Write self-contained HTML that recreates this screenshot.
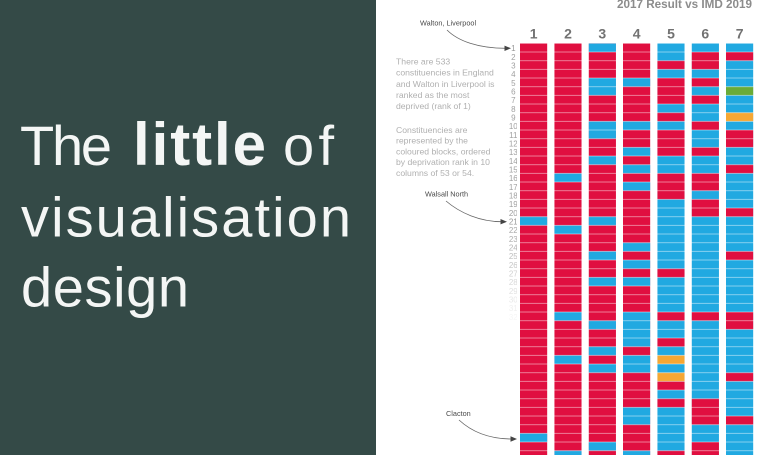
<!DOCTYPE html>
<html><head><meta charset="utf-8"><style>
html,body{margin:0;padding:0;background:#fff;}
svg{display:block;}
</style></head><body>
<svg width="758" height="455" viewBox="0 0 758 455" xmlns="http://www.w3.org/2000/svg" font-family="Liberation Sans, Arial, sans-serif">
<defs>
<pattern id="sep" patternUnits="userSpaceOnUse" x="0" y="42.9" width="758" height="8.6667">
<rect x="0" y="0" width="758" height="0.9" fill="#ffffff" fill-opacity="0.5"/>
</pattern>
</defs>
<rect x="0" y="0" width="758" height="455" fill="#ffffff"/>
<rect x="0" y="0" width="376" height="455" fill="#344a47"/>
<g fill="#f4f6f5" font-size="56">
<text x="20" y="165" textLength="92">The</text>
<text x="133" y="165" font-size="60" font-weight="bold" textLength="133">little</text>
<text x="283" y="165" textLength="51">of</text>
<text x="21" y="236.7" textLength="330">visualisation</text>
<text x="21" y="306.7" textLength="168">design</text>
</g>

<text x="617" y="8" font-size="11.7" font-weight="bold" fill="#8c8c8c" textLength="135">2017 Result vs IMD 2019</text>
<g font-size="14" font-weight="bold" fill="#727272" text-anchor="middle">
<text x="533.7" y="38.3">1</text><text x="568" y="38.3">2</text><text x="602.3" y="38.3">3</text><text x="636.7" y="38.3">4</text><text x="671" y="38.3">5</text><text x="705.3" y="38.3">6</text><text x="739.7" y="38.3">7</text>
</g>

<g font-size="8.65" fill="#b0b0b0">
<text x="396" y="64.5">There are 533</text>
<text x="396" y="75.6">constituencies in England</text>
<text x="396" y="86.8">and Walton in Liverpool is</text>
<text x="396" y="98">ranked as the most</text>
<text x="396" y="109.2">deprived (rank of 1)</text>
<text x="396" y="132.8">Constituencies are</text>
<text x="396" y="143.6">represented by the</text>
<text x="396" y="154.4">coloured blocks, ordered</text>
<text x="396" y="165.2">by deprivation rank in 10</text>
<text x="396" y="176">columns of 53 or 54.</text>
</g>

<g font-size="7.3" fill="#4a4a4a">
<text x="420" y="25.6">Walton, Liverpool</text>
<text x="425" y="196.5">Walsall North</text>
<text x="446" y="415.8">Clacton</text>
</g>
<g fill="none" stroke="#666" stroke-width="0.8">
<path d="M447,30 C458,41 478,48.3 506,48.3"/>
<path d="M446,201 C460,213 480,221.7 502,221.7"/>
<path d="M459,420 C472,432 490,439 512,439"/>
</g>
<g fill="#444">
<polygon points="511,48.3 504.5,45.6 504.5,51"/>
<polygon points="507,221.7 500.5,219 500.5,224.4"/>
<polygon points="517,439 510.5,436.3 510.5,441.7"/>
</g>

<g font-size="8" text-anchor="middle">
<text x="513.3" y="51.1" fill="#999">1</text>
<text x="513.3" y="59.8" fill="#a0a0a0">2</text>
<text x="513.3" y="68.5" fill="#a0a0a0">3</text>
<text x="513.3" y="77.1" fill="#a0a0a0">4</text>
<text x="513.3" y="85.8" fill="#a0a0a0">5</text>
<text x="513.3" y="94.5" fill="#a0a0a0">6</text>
<text x="513.3" y="103.1" fill="#a0a0a0">7</text>
<text x="513.3" y="111.8" fill="#a0a0a0">8</text>
<text x="513.3" y="120.5" fill="#a0a0a0">9</text>
<text x="513.3" y="129.1" fill="#a0a0a0">10</text>
<text x="513.3" y="137.8" fill="#a0a0a0">11</text>
<text x="513.3" y="146.5" fill="#a0a0a0">12</text>
<text x="513.3" y="155.1" fill="#a0a0a0">13</text>
<text x="513.3" y="163.8" fill="#a0a0a0">14</text>
<text x="513.3" y="172.5" fill="#a0a0a0">15</text>
<text x="513.3" y="181.1" fill="#a0a0a0">16</text>
<text x="513.3" y="189.8" fill="#a0a0a0">17</text>
<text x="513.3" y="198.5" fill="#a0a0a0">18</text>
<text x="513.3" y="207.1" fill="#a0a0a0">19</text>
<text x="513.3" y="215.8" fill="#a0a0a0">20</text>
<text x="513.3" y="224.5" fill="#999">21</text>
<text x="513.3" y="233.1" fill="#aaa">22</text>
<text x="513.3" y="241.8" fill="#aeaeae">23</text>
<text x="513.3" y="250.5" fill="#b4b4b4">24</text>
<text x="513.3" y="259.1" fill="#bdbdbd">25</text>
<text x="513.3" y="267.8" fill="#c6c6c6">26</text>
<text x="513.3" y="276.5" fill="#d0d0d0">27</text>
<text x="513.3" y="285.1" fill="#d9d9d9">28</text>
<text x="513.3" y="293.8" fill="#e2e2e2">29</text>
<text x="513.3" y="302.5" fill="#e9e9e9">30</text>
<text x="513.3" y="311.1" fill="#f0f0f0">31</text>
<text x="513.3" y="319.8" fill="#f6f6f6">32</text>
</g>

<!-- Column 1 -->
<rect x="520" y="43.33" width="27.3" height="420" fill="#e00f40"/>
<g fill="#21a9e1">
<rect x="520" y="216.67" width="27.3" height="8.67"/>
<rect x="520" y="433.33" width="27.3" height="8.67"/>
</g>
<!-- Column 2 -->
<rect x="554.33" y="43.33" width="27.3" height="420" fill="#e00f40"/>
<g fill="#21a9e1">
<rect x="554.33" y="173.33" width="27.3" height="8.67"/>
<rect x="554.33" y="225.33" width="27.3" height="8.67"/>
<rect x="554.33" y="312" width="27.3" height="8.67"/>
<rect x="554.33" y="355.33" width="27.3" height="8.67"/>
<rect x="554.33" y="450.67" width="27.3" height="8.67"/>
</g>
<!-- Column 3 -->
<rect x="588.67" y="43.33" width="27.3" height="420" fill="#e00f40"/>
<g fill="#21a9e1">
<rect x="588.67" y="43.33" width="27.3" height="8.67"/>
<rect x="588.67" y="78" width="27.3" height="17.33"/>
<rect x="588.67" y="121.33" width="27.3" height="17.33"/>
<rect x="588.67" y="156" width="27.3" height="8.67"/>
<rect x="588.67" y="216.67" width="27.3" height="8.67"/>
<rect x="588.67" y="251.33" width="27.3" height="8.67"/>
<rect x="588.67" y="277.33" width="27.3" height="8.67"/>
<rect x="588.67" y="320.67" width="27.3" height="8.67"/>
<rect x="588.67" y="346.67" width="27.3" height="8.67"/>
<rect x="588.67" y="364" width="27.3" height="8.67"/>
<rect x="588.67" y="442" width="27.3" height="8.67"/>
</g>
<!-- Column 4 -->
<rect x="623" y="43.33" width="27.3" height="420" fill="#e00f40"/>
<g fill="#21a9e1">
<rect x="623" y="78" width="27.3" height="8.67"/>
<rect x="623" y="121.33" width="27.3" height="8.67"/>
<rect x="623" y="147.33" width="27.3" height="8.67"/>
<rect x="623" y="164.67" width="27.3" height="8.67"/>
<rect x="623" y="182" width="27.3" height="8.67"/>
<rect x="623" y="242.67" width="27.3" height="8.67"/>
<rect x="623" y="260" width="27.3" height="8.67"/>
<rect x="623" y="277.33" width="27.3" height="8.67"/>
<rect x="623" y="312" width="27.3" height="34.67"/>
<rect x="623" y="355.33" width="27.3" height="17.33"/>
<rect x="623" y="407.33" width="27.3" height="17.33"/>
<rect x="623" y="450.67" width="27.3" height="8.67"/>
</g>
<!-- Column 5 -->
<rect x="657.33" y="43.33" width="27.3" height="420" fill="#21a9e1"/>
<g fill="#e00f40">
<rect x="657.33" y="60.67" width="27.3" height="8.67"/>
<rect x="657.33" y="78" width="27.3" height="26"/>
<rect x="657.33" y="112.67" width="27.3" height="8.67"/>
<rect x="657.33" y="130" width="27.3" height="26"/>
<rect x="657.33" y="173.33" width="27.3" height="26"/>
<rect x="657.33" y="268.67" width="27.3" height="8.67"/>
<rect x="657.33" y="312" width="27.3" height="8.67"/>
<rect x="657.33" y="338" width="27.3" height="8.67"/>
<rect x="657.33" y="381.33" width="27.3" height="8.67"/>
<rect x="657.33" y="398.67" width="27.3" height="8.67"/>
<rect x="657.33" y="450.67" width="27.3" height="8.67"/>
</g>
<g fill="#f6a733">
<rect x="657.33" y="355.33" width="27.3" height="8.67"/>
<rect x="657.33" y="372.67" width="27.3" height="8.67"/>
</g>
<!-- Column 6 -->
<rect x="691.67" y="43.33" width="27.3" height="420" fill="#21a9e1"/>
<g fill="#e00f40">
<rect x="691.67" y="52" width="27.3" height="17.33"/>
<rect x="691.67" y="78" width="27.3" height="8.67"/>
<rect x="691.67" y="95.33" width="27.3" height="8.67"/>
<rect x="691.67" y="121.33" width="27.3" height="8.67"/>
<rect x="691.67" y="147.33" width="27.3" height="8.67"/>
<rect x="691.67" y="173.33" width="27.3" height="17.33"/>
<rect x="691.67" y="199.33" width="27.3" height="17.33"/>
<rect x="691.67" y="312" width="27.3" height="8.67"/>
<rect x="691.67" y="398.67" width="27.3" height="26"/>
<rect x="691.67" y="442" width="27.3" height="17.33"/>
</g>
<!-- Column 7 -->
<rect x="726" y="43.33" width="27.3" height="420" fill="#21a9e1"/>
<g fill="#e00f40">
<rect x="726" y="52" width="27.3" height="8.67"/>
<rect x="726" y="130" width="27.3" height="17.33"/>
<rect x="726" y="164.67" width="27.3" height="8.67"/>
<rect x="726" y="208" width="27.3" height="8.67"/>
<rect x="726" y="251.33" width="27.3" height="8.67"/>
<rect x="726" y="312" width="27.3" height="17.33"/>
<rect x="726" y="372.67" width="27.3" height="8.67"/>
<rect x="726" y="416" width="27.3" height="8.67"/>
</g>
<rect x="726" y="86.67" width="27.3" height="8.67" fill="#6aab37"/>
<rect x="726" y="112.67" width="27.3" height="8.67" fill="#f6a733"/>

<!-- row separators -->
<rect x="518" y="43.33" width="240" height="420" fill="url(#sep)"/>
<!-- gaps between columns (restore white) -->
<g fill="#ffffff">
<rect x="547.3" y="40" width="7.03" height="420"/>
<rect x="581.63" y="40" width="7.04" height="420"/>
<rect x="615.97" y="40" width="7.03" height="420"/>
<rect x="650.3" y="40" width="7.03" height="420"/>
<rect x="684.63" y="40" width="7.04" height="420"/>
<rect x="718.97" y="40" width="7.03" height="420"/>
<rect x="753.3" y="40" width="5" height="420"/>
<rect x="517" y="40" width="3" height="420"/>
</g>
</svg>
</body></html>
